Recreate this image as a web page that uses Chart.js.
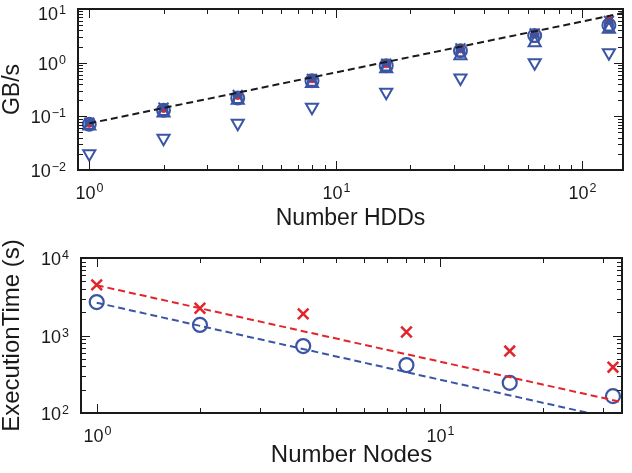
<!DOCTYPE html>
<html>
<head>
<script src="https://cdn.jsdelivr.net/npm/chart.js"></script>
<style>
    body { margin: 0; background: #fff; }
    canvas { position: absolute; left: 0; }
    #hddChart { top: 0; }
    #nodeChart { top: 236px; }
</style>
</head>
<body>
<canvas id="hddChart" width="632" height="236"></canvas>
<canvas id="nodeChart" width="632" height="237"></canvas>
<script>
// top panel: GB/s against number of HDDs
const hdds = [1, 2, 4, 8, 16, 32, 64, 128];
const gbCross = [0.076, 0.145, 0.25, 0.5, 0.96, 1.85, 3.5, 6.0];
const gbDot = [0.074, 0.14, 0.245, 0.5, 0.95, 1.8, 3.4, 6.2];
const gbCircle = [0.071, 0.13, 0.22, 0.46, 0.88, 1.67, 3.2, 5.0];
const gbSquare = [0.069, 0.125, 0.21, 0.44, 0.84, 1.55, 2.9, 4.7];
const gbTriUp = [0.066, 0.115, 0.2, 0.41, 0.77, 1.35, 2.36, 4.2];
const gbTriDown = [0.02, 0.039, 0.074, 0.147, 0.28, 0.52, 1.0, 1.53];
const idealHdd = [1, 146];
const idealGB = [0.074, 8.4];

// bottom panel: execution time against number of nodes
const nodes = [1, 2, 4, 8, 16, 32];
const timeCross = [4500, 2250, 1900, 1110, 630, 390];
const timeCircle = [2700, 1370, 730, 415, 245, 165];
const fitNodes = [1, 34];
const fitCross = [4450, 138];
const fitCircle = [2650, 80];

const BLUE = '#3a55a4';
const RED = '#e3242b';
const INK = '#1a1a1a';
const FONT = '"Liberation Sans", Arial, sans-serif';

function isPow10(v) {
    const e = Math.log10(v);
    return Math.abs(e - Math.round(e)) < 1e-9;
}

// every 1..9 x 10^k between min and max
function logTicks(min, max) {
    const out = [];
    for (let k = Math.floor(Math.log10(min)); k <= Math.ceil(Math.log10(max)); k++) {
        for (let m = 1; m < 10; m++) {
            const v = m * Math.pow(10, k);
            if (v >= min * 0.9999 && v <= max * 1.0001) out.push({ value: v });
        }
    }
    return out;
}

function pts(xs, ys) {
    return xs.map((x, i) => ({ x: x, y: ys[i] }));
}

// draws "10" with a raised exponent; (x, base) is where the "10" starts
function drawPow(ctx, v, x, base) {
    const e = Math.round(Math.log10(v));
    const exp = e < 0 ? '\u2212' + (-e) : String(e);
    ctx.font = '18px ' + FONT;
    ctx.fillText('10', x, base);
    const w = ctx.measureText('10').width;
    ctx.font = '12.5px ' + FONT;
    ctx.fillText(exp, x + w + 1, base - 6.5);
}

function powWidth(ctx, v) {
    const e = Math.round(Math.log10(v));
    const exp = e < 0 ? '\u2212' + (-e) : String(e);
    ctx.font = '18px ' + FONT;
    const w = ctx.measureText('10').width;
    ctx.font = '12.5px ' + FONT;
    return w + 1 + ctx.measureText(exp).width;
}

// frame, inward ticks on all four sides and the 10^n labels
const framePlugin = {
    id: 'frame',
    afterDraw(chart) {
        const ctx = chart.ctx;
        const a = chart.chartArea;
        const xs = chart.scales.x, ys = chart.scales.y;
        ctx.save();
        ctx.strokeStyle = INK;
        ctx.fillStyle = INK;
        ctx.lineWidth = 1;
        ctx.textAlign = 'left';
        ctx.textBaseline = 'alphabetic';
        xs.ticks.forEach(t => {
            const p = Math.round(xs.getPixelForValue(t.value)) + 0.5;
            const major = isPow10(t.value);
            const len = major ? 9 : 5;
            ctx.beginPath();
            ctx.moveTo(p, a.bottom); ctx.lineTo(p, a.bottom - len);
            ctx.moveTo(p, a.top); ctx.lineTo(p, a.top + len);
            ctx.stroke();
            if (major) {
                const w = powWidth(ctx, t.value);
                drawPow(ctx, t.value, p - w / 2, a.bottom + 28.5);
            }
        });
        ys.ticks.forEach(t => {
            const p = Math.round(ys.getPixelForValue(t.value)) + 0.5;
            const major = isPow10(t.value);
            const len = major ? 9 : 5;
            ctx.beginPath();
            ctx.moveTo(a.left, p); ctx.lineTo(a.left + len, p);
            ctx.moveTo(a.right, p); ctx.lineTo(a.right - len, p);
            ctx.stroke();
            if (major) {
                const w = powWidth(ctx, t.value);
                const base = Math.max(p + 6.5, 20);
                drawPow(ctx, t.value, a.left - 12 - w, base);
            }
        });
        ctx.lineWidth = 2;
        ctx.strokeRect(a.left, a.top, a.right - a.left, a.bottom - a.top);
        ctx.restore();
    }
};

function logAxis(min, max, title, size, extra) {
    return Object.assign({
        type: 'logarithmic',
        min: min,
        max: max,
        grid: { display: false },
        border: { display: false },
        afterBuildTicks: s => { s.ticks = logTicks(min, max); },
        ticks: { display: false, autoSkip: false },
        title: {
            display: true,
            text: title,
            color: INK,
            font: { family: FONT, size: size }
        }
    }, extra);
}

function scatter(label, data, style, color, radius, rotation, fill, bw) {
    return {
        label: label,
        data: data,
        showLine: false,
        pointStyle: style,
        pointRadius: radius,
        pointRotation: rotation || 0,
        borderColor: color,
        backgroundColor: fill ? color : 'rgba(0,0,0,0)',
        pointBorderWidth: bw || 2
    };
}

function dashed(label, data, color) {
    return {
        label: label,
        data: data,
        showLine: true,
        borderColor: color,
        borderWidth: 2,
        borderDash: [7, 4],
        pointRadius: 0
    };
}

function baseOptions(padTop) {
    return {
        responsive: false,
        animation: false,
        layout: { padding: { top: padTop, right: 4, left: 0, bottom: 0 } },
        plugins: { legend: { display: false }, tooltip: { enabled: false } }
    };
}

const hddOpts = baseOptions(8);
hddOpts.scales = {
    x: logAxis(0.9, 146, 'Number HDDs', 23, { afterFit: s => { s.height = 66; } }),
    y: logAxis(0.01, 10, 'GB/s', 23, { afterFit: s => { s.width = 78; } })
};
hddOpts.scales.x.title.padding = { top: 0, bottom: 4 };
hddOpts.scales.y.title.padding = { top: 0, bottom: 0 };
hddOpts.scales.y.title.font.lineHeight = 1.1;

new Chart(document.getElementById('hddChart'), {
    type: 'scatter',
    data: {
        datasets: [
            dashed('ideal', pts(idealHdd, idealGB), INK),
            scatter('down', pts(hdds, gbTriDown), 'triangle', BLUE, 7, 180),
            scatter('up', pts(hdds, gbTriUp), 'triangle', BLUE, 7),
            scatter('square', pts(hdds, gbSquare), 'rect', BLUE, 5.5),
            scatter('circle', pts(hdds, gbCircle), 'circle', BLUE, 6.5),
            scatter('cross', pts(hdds, gbCross), 'crossRot', BLUE, 7),
            scatter('dot', pts(hdds, gbDot), 'circle', RED, 4, 0, true, 1)
        ]
    },
    options: hddOpts,
    plugins: [framePlugin]
});

const nodeOpts = baseOptions(22);
nodeOpts.scales = {
    x: logAxis(0.9, 34, 'Number Nodes', 24, { afterFit: s => { s.height = 60; } }),
    y: logAxis(100, 10000, 'ExecutionTime (s)', 24, { afterFit: s => { s.width = 81; } })
};
nodeOpts.scales.x.title.padding = { top: 0, bottom: 3 };
nodeOpts.scales.y.title.padding = { top: 0, bottom: 0 };
nodeOpts.scales.y.title.font.lineHeight = 1.05;

new Chart(document.getElementById('nodeChart'), {
    type: 'scatter',
    data: {
        datasets: [
            dashed('fit cross', pts(fitNodes, fitCross), RED),
            dashed('fit circle', pts(fitNodes, fitCircle), BLUE),
            scatter('time cross', pts(nodes, timeCross), 'crossRot', RED, 7.5, 0, false, 2.5),
            scatter('time circle', pts(nodes, timeCircle), 'circle', BLUE, 7, 0, false, 2.2)
        ]
    },
    options: nodeOpts,
    plugins: [framePlugin]
});
</script>
</body>
</html>
